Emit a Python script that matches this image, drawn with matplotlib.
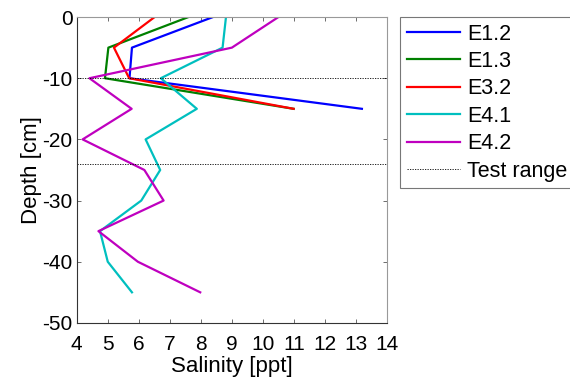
import matplotlib
matplotlib.use("Agg")
import matplotlib.pyplot as plt

depth_short = [0, -5, -10, -15]
depth_long = [0, -5, -10, -15, -20, -25, -30, -35, -40, -45]

sal_e12 = [8.39, 5.78, 5.70, 13.19]
sal_e13 = [7.60, 5.02, 4.91, 10.99]
sal_e32 = [6.51, 5.20, 5.69, 10.99]
sal_e41 = [8.81, 8.70, 6.71, 7.87, 6.22, 6.69, 6.08, 4.75, 5.00, 5.78]
sal_e42 = [10.50, 9.00, 4.41, 5.77, 4.19, 6.18, 6.80, 4.70, 5.97, 7.98]

test_range = [-10, -24]
x_ticks = list(range(4, 15))
y_ticks = [0, -10, -20, -30, -40, -50]

plt.rcParams['font.family'] = ['Liberation Sans', 'DejaVu Sans']
plt.rcParams['axes.unicode_minus'] = False

fig = plt.figure(figsize=(5.7, 3.79), dpi=100)
ax = fig.add_axes([0.1346, 0.148, 0.5444, 0.807])

lw = 1.6
ax.plot(sal_e12, depth_short, color='#0000ff', lw=lw, label='E1.2')
ax.plot(sal_e13, depth_short, color='#008000', lw=lw, label='E1.3')
ax.plot(sal_e32, depth_short, color='#ff0000', lw=lw, label='E3.2')
ax.plot(sal_e41, depth_long, color='#00bfbf', lw=lw, label='E4.1')
ax.plot(sal_e42, depth_long, color='#bf00bf', lw=lw, label='E4.2')
for i, d in enumerate(test_range):
    ax.axhline(d, color='black', lw=0.6, ls=(0, (1.5, 1.5)),
               label='Test range' if i == 0 else None)

ax.set_xlim(4, 14)
ax.set_ylim(-50, 0)
ax.set_xticks(x_ticks)
ax.set_yticks(y_ticks)
ax.tick_params(direction='in', top=True, right=True, length=3,
               width=0.6, labelsize=15, color='#555555')
ax.tick_params(axis='x', pad=9)
ax.tick_params(axis='y', pad=3)
for side in ['left', 'bottom']:
    ax.spines[side].set_color('#333333')
for side in ['right', 'top']:
    ax.spines[side].set_color('#999999')
for s in ax.spines.values():
    s.set_linewidth(0.8)

ax.set_xlabel('Salinity [ppt]', fontsize=16, labelpad=1)
ax.set_ylabel('Depth [cm]', fontsize=16, labelpad=0)

leg = ax.legend(loc='upper left', bbox_to_anchor=(1.042, 1.0), fontsize=15.5,
                frameon=True, fancybox=False, handlelength=2.5,
                handletextpad=0.3, labelspacing=0.3, borderpad=0.3,
                borderaxespad=0)
leg.get_frame().set_edgecolor('#555555')
leg.get_frame().set_linewidth(0.8)

fig.savefig('out.png', dpi=100)
